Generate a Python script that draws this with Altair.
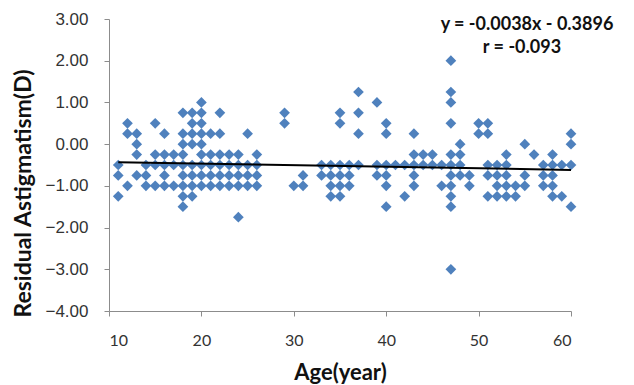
import altair as alt
import pandas as pd

# ---- data ----
ages = [
    11, 11, 11,
    12, 12, 12,
    13, 13, 13, 13,
    14, 14, 14,
    15, 15, 15, 15,
    16, 16, 16, 16, 16,
    17, 17, 17,
    18, 18, 18, 18, 18, 18, 18, 18, 18,
    19, 19, 19, 19, 19, 19, 19, 19,
    20, 20, 20, 20, 20, 20, 20, 20, 20,
    21, 21, 21, 21, 21,
    22, 22, 22, 22, 22, 22,
    23, 23, 23, 23,
    24, 24, 24, 24, 24,
    25, 25, 25, 25,
    26, 26, 26, 26,
    29, 29,
    30,
    31, 31,
    33, 33,
    34, 34, 34, 34,
    35, 35, 35, 35, 35, 35,
    36, 36, 36,
    37, 37, 37, 37,
    39, 39, 39,
    40, 40, 40, 40, 40, 40,
    41,
    42, 42,
    43, 43, 43, 43, 43,
    44, 44,
    45, 45,
    46, 46,
    47, 47, 47, 47, 47, 47, 47, 47, 47, 47, 47,
    48, 48, 48, 48,
    49, 49,
    50, 50,
    51, 51, 51, 51, 51,
    52, 52, 52, 52,
    53, 53, 53, 53, 53,
    54, 54,
    55, 55, 55,
    56,
    57, 57, 57,
    58, 58, 58, 58, 58,
    59, 59,
    60, 60, 60, 60,
]
residual = [
    -0.5, -0.75, -1.25,
    0.5, 0.25, -1.0,
    0.25, 0.0, -0.25, -0.75,
    -0.5, -0.75, -1.0,
    0.5, -0.25, -0.5, -1.0,
    0.25, -0.25, -0.5, -0.75, -1.0,
    -0.25, -0.5, -1.0,
    0.75, 0.25, 0.0, -0.25, -0.5, -0.75, -1.0, -1.25, -1.5,
    0.75, 0.5, 0.25, 0.0, -0.5, -0.75, -1.0, -1.25,
    1.0, 0.75, 0.5, 0.25, 0.0, -0.25, -0.5, -0.75, -1.0,
    0.25, -0.25, -0.5, -0.75, -1.0,
    0.75, 0.25, -0.25, -0.5, -0.75, -1.0,
    -0.25, -0.5, -0.75, -1.0,
    -0.25, -0.5, -0.75, -1.0, -1.75,
    0.25, -0.5, -0.75, -1.0,
    -0.25, -0.5, -0.75, -1.0,
    0.75, 0.5,
    -1.0,
    -0.75, -1.0,
    -0.5, -0.75,
    -0.5, -0.75, -1.0, -1.25,
    0.75, 0.5, -0.5, -0.75, -1.0, -1.25,
    -0.5, -0.75, -1.0,
    1.25, 0.75, 0.25, -0.5,
    1.0, -0.5, -0.75,
    0.5, 0.25, -0.5, -0.75, -1.0, -1.5,
    -0.5,
    -0.5, -1.25,
    0.25, -0.25, -0.5, -0.75, -1.0,
    -0.25, -0.5,
    -0.25, -0.5,
    -0.5, -1.0,
    2.0, 1.25, 1.0, 0.5, -0.25, -0.5, -0.75, -1.0, -1.25, -1.5, -3.0,
    0.0, -0.25, -0.5, -0.75,
    -0.75, -1.0,
    0.5, 0.25,
    0.5, 0.25, -0.5, -0.75, -1.25,
    -0.5, -0.75, -1.0, -1.25,
    -0.25, -0.5, -0.75, -1.0, -1.25,
    -1.0, -1.25,
    0.0, -0.75, -1.0,
    -0.25,
    -0.5, -0.75, -1.0,
    -0.25, -0.5, -0.75, -1.0, -1.25,
    -0.5, -1.25,
    0.25, 0.0, -0.5, -1.5,
]

slope = -0.0038
intercept = -0.3896
trend_ages = [11, 60]
equation_text = "y = -0.0038x - 0.3896"
r_text = "r = -0.093"

x_ticks = [10, 20, 30, 40, 50, 60]
y_ticks = [-4, -3, -2, -1, 0, 1, 2, 3]

pts = pd.DataFrame({"age": ages, "res": residual})
trend = pd.DataFrame({"age": trend_ages,
                      "res": [slope * a + intercept for a in trend_ages]})

x_enc = alt.X("age:Q",
              scale=alt.Scale(domain=[10, 60], nice=False, zero=False),
              axis=alt.Axis(values=x_ticks, title="Age(year)", grid=False,
                            labelFont="Lato", labelFontSize=16, labelColor="#333333",
                            labelPadding=16, tickSize=5,
                            titleFont="Lato", titleFontSize=22, titleFontWeight="bold",
                            titleColor="#111111", titleY=61, titleBaseline="middle",
                            domainColor="#8c8c8c", tickColor="#8c8c8c"))
y_enc = alt.Y("res:Q",
              scale=alt.Scale(domain=[-4, 3], nice=False, zero=False),
              axis=alt.Axis(values=y_ticks, format=".2f", title="Residual Astigmatism(D)",
                            grid=False, labelFont="Liberation Sans", labelFontSize=17,
                            labelColor="#333333", labelPadding=16, tickSize=5,
                            titleFont="Lato", titleFontSize=23, titleFontWeight="bold",
                            titleColor="#111111", titleX=-86, titleY=174,
                            titleAngle=270, titleBaseline="middle", titleAlign="center",
                            domainColor="#8c8c8c", tickColor="#8c8c8c"))

points = alt.Chart(pts).mark_point(shape="diamond", filled=True, size=115,
                                   color="#4f81bd", opacity=1).encode(x=x_enc, y=y_enc)

line = alt.Chart(trend).mark_line(color="#000000", strokeWidth=2).encode(
    x="age:Q", y="res:Q")

eq = alt.Chart(pd.DataFrame({"t": [equation_text]})).mark_text(
    font="Lato", fontSize=18, fontWeight="bold", color="#111111", align="center"
).encode(x=alt.value(418), y=alt.value(6), text="t:N")

rr = alt.Chart(pd.DataFrame({"t": [r_text]})).mark_text(
    font="Lato", fontSize=18, fontWeight="bold", color="#111111", align="center"
).encode(x=alt.value(413), y=alt.value(29), text="t:N")

chart = alt.layer(points, line, eq, rr).properties(
    width=462, height=292,
    autosize="none",
    padding={"left": 109, "top": 19, "right": 63, "bottom": 74},
    background="white",
).configure_view(stroke=None)

chart.save("out.html", embed_options={"renderer": "svg", "actions": False})
